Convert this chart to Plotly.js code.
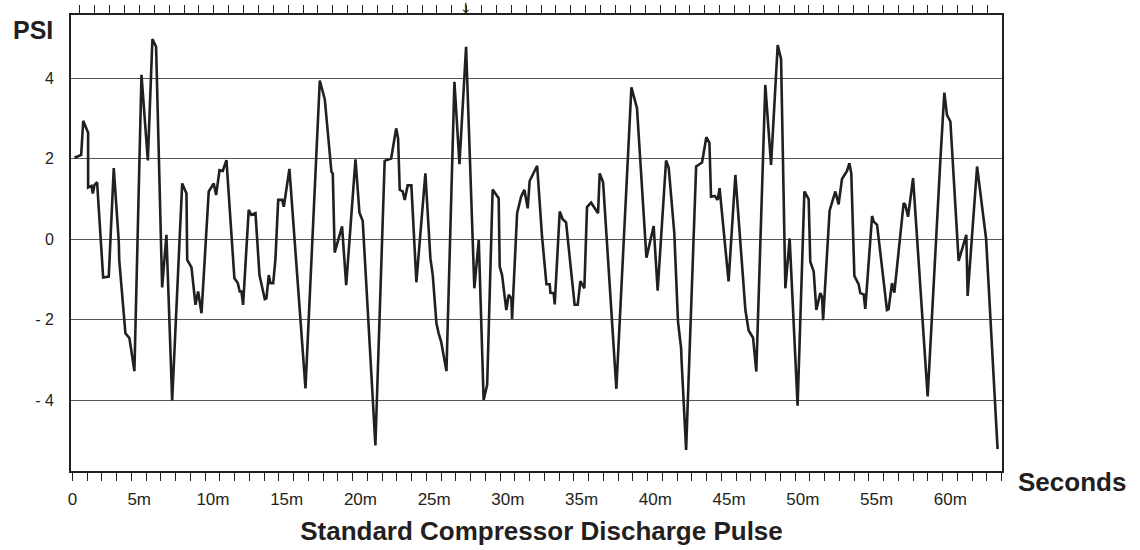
<!DOCTYPE html>
<html>
<head>
<meta charset="utf-8">
<script src="https://cdn.plot.ly/plotly-3.0.1.min.js"></script>
<style>
  html, body { margin: 0; padding: 0; background: #ffffff; }
  #chart { width: 1140px; height: 550px; }
</style>
</head>
<body>
<div id="chart"></div>
<script>
// Time in minutes (labelled "m" on the axis) and pressure pulse in PSI
const minutes = [
  0.14, 0.59, 0.73, 1.06, 1.06, 1.29, 1.38, 1.49, 1.67, 2.08,
  2.46, 2.80, 3.14, 3.17, 3.59, 3.86, 4.20, 4.68, 5.11, 5.42,
  5.67, 6.08, 6.37, 6.76, 7.44, 7.73, 7.78, 8.07, 8.34, 8.52,
  8.75, 9.24, 9.58, 9.74, 9.97, 10.19, 10.44, 10.98, 11.21, 11.34,
  11.46, 11.57, 11.95, 12.12, 12.41, 12.68, 13.04, 13.15, 13.31, 13.42,
  13.61, 13.76, 13.95, 14.22, 14.33, 14.71, 15.80, 16.77, 17.11, 17.56,
  17.65, 17.78, 18.28, 18.56, 19.19, 19.46, 19.68, 20.54, 21.17, 21.61,
  21.95, 22.08, 22.19, 22.39, 22.53, 22.73, 22.98, 23.32, 23.93, 24.27,
  24.43, 24.68, 24.83, 25.00, 25.36, 25.90, 26.24, 26.69, 27.25, 27.55,
  27.88, 28.12, 28.49, 28.90, 28.97, 29.13, 29.42, 29.58, 29.76, 29.81,
  30.15, 30.42, 30.64, 30.87, 31.00, 31.51, 31.84, 32.14, 32.36, 32.41,
  32.63, 32.70, 33.04, 33.24, 33.47, 34.05, 34.26, 34.44, 34.71, 34.89,
  35.17, 35.64, 35.75, 35.98, 36.88, 37.90, 38.28, 38.92, 39.41, 39.68,
  40.25, 40.43, 40.81, 41.06, 41.27, 41.30, 41.61, 42.29, 42.69, 42.98,
  43.19, 43.30, 43.55, 43.75, 43.88, 44.49, 44.95, 45.63, 45.85, 46.15,
  46.37, 46.98, 47.37, 47.82, 48.05, 48.34, 48.63, 49.17, 49.63, 49.92,
  50.03, 50.26, 50.44, 50.71, 50.83, 50.90, 51.34, 51.73, 51.95, 52.18,
  52.52, 52.68, 52.81, 53.02, 53.31, 53.42, 53.65, 53.76, 54.22, 54.33,
  54.56, 55.23, 55.34, 55.57, 55.73, 56.14, 56.36, 56.47, 56.66, 57.00,
  57.99, 58.85, 59.12, 59.30, 59.53, 60.09, 60.61, 60.70, 61.34, 61.95,
  62.73
];
const psi = [
  2.03, 2.10, 2.95, 2.65, 1.29, 1.33, 1.14, 1.35, 1.42, -0.95,
  -0.93, 1.77, -0.06, -0.51, -2.34, -2.46, -3.28, 4.09, 1.96, 4.98,
  4.79, -1.20, 0.11, -4.01, 1.39, 1.14, -0.51, -0.70, -1.63, -1.30,
  -1.84, 1.19, 1.39, 1.10, 1.72, 1.70, 1.97, -0.97, -1.09, -1.30,
  -1.30, -1.63, 0.73, 0.61, 0.65, -0.89, -1.49, -1.47, -0.89, -1.09,
  -1.09, -0.51, 0.98, 0.98, 0.81, 1.75, -3.71, 3.95, 3.48, 1.68,
  1.64, -0.33, 0.32, -1.14, 1.99, 0.66, 0.46, -5.13, 1.95, 2.01,
  2.76, 2.51, 1.23, 1.19, 0.98, 1.34, 1.34, -1.07, 1.64, -0.47,
  -0.89, -2.09, -2.34, -2.55, -3.28, 3.92, 1.87, 4.79, -1.22, -0.02,
  -4.00, -3.62, 1.24, 1.02, -0.68, -0.89, -1.76, -1.38, -1.47, -1.98,
  0.65, 1.06, 1.23, 0.77, 1.45, 1.83, 0.07, -1.12, -1.12, -1.33,
  -1.34, -1.62, 0.69, 0.50, 0.42, -1.63, -1.63, -1.04, -1.22, 0.80,
  0.91, 0.65, 1.64, 1.42, -3.72, 3.78, 3.26, -0.46, 0.33, -1.28,
  1.96, 1.78, 0.15, -2.05, -2.71, -3.00, -5.24, 1.81, 1.91, 2.54,
  2.40, 1.06, 1.08, 0.98, 1.27, -1.05, 1.60, -1.76, -2.27, -2.45,
  -3.29, 3.84, 1.85, 4.83, 4.48, -1.22, 0.02, -4.14, 1.19, 1.00,
  -0.56, -0.80, -1.76, -1.34, -1.43, -2.01, 0.71, 1.19, 0.87, 1.50,
  1.70, 1.89, 1.64, -0.91, -1.12, -1.34, -1.37, -1.73, 0.58, 0.44,
  0.36, -1.76, -1.74, -1.09, -1.33, 0.15, 0.90, 0.86, 0.56, 1.52,
  -3.91, 1.97, 3.65, 3.09, 2.93, -0.54, 0.11, -1.41, 1.81, 0.02,
  -5.22
];
const xTickVals = [0, 5, 10, 15, 20, 25, 30, 35, 40, 45, 50, 55, 60];
const xTickText = ["&nbsp;&nbsp;&nbsp;0", "5m", "10m", "15m", "20m", "25m", "30m", "35m", "40m", "45m", "50m", "55m", "60m"];
const yTickVals = [4, 2, 0, -2, -4];
const yTickText = ["4", "2", "0", "- 2", "- 4"];

const ink = '#231f20';
const fontFam = 'Liberation Sans, Arial, Helvetica, sans-serif';

const traces = [
  {
    x: minutes, y: psi,
    type: 'scatter', mode: 'lines',
    line: { color: ink, width: 2.6 },
    hoverinfo: 'x+y', showlegend: false
  },
  {
    // carrier for the top tick strip
    x: [minutes[0]], y: [psi[0]],
    xaxis: 'x2', type: 'scatter', mode: 'markers',
    marker: { opacity: 0 }, hoverinfo: 'skip', showlegend: false
  }
];

const layout = {
  width: 1140, height: 550,
  margin: { l: 71, r: 138, t: 15, b: 79 },
  paper_bgcolor: '#ffffff', plot_bgcolor: '#ffffff',
  font: { family: fontFam, color: ink },
  showlegend: false,
  title: {
    text: '<b>Standard Compressor Discharge Pulse</b>',
    font: { family: fontFam, size: 26, color: ink },
    x: 541.5 / 1140, xanchor: 'center', xref: 'container',
    y: (550 - 531) / 550, yanchor: 'middle', yref: 'container'
  },
  xaxis: {
    range: [-0.1, 63.03],
    tickmode: 'array', tickvals: xTickVals, ticktext: xTickText,
    ticks: 'outside', ticklen: 8, tickwidth: 1.3, tickcolor: ink,
    minor: { dtick: 1, ticks: 'outside', ticklen: 8, tickwidth: 1.3, tickcolor: ink, showgrid: false },
    ticklabelstandoff: 3,
    ticklabelshift: -7,
    tickfont: { family: fontFam, size: 17, color: ink },
    showline: true, linewidth: 2.2, linecolor: ink,
    showgrid: false, zeroline: false, fixedrange: true
  },
  xaxis2: {
    overlaying: 'x', side: 'top', anchor: 'y',
    range: [-0.6, 61.98],
    tickmode: 'linear', tick0: 0, dtick: 1,
    ticks: 'outside', ticklen: 8, tickwidth: 1.3, tickcolor: ink,
    showticklabels: false,
    showline: true, linewidth: 1.5, linecolor: ink,
    showgrid: false, zeroline: false, fixedrange: true
  },
  yaxis: {
    range: [-5.765, 5.58],
    tickmode: 'array', tickvals: yTickVals, ticktext: yTickText,
    ticks: '', ticklabelstandoff: 12,
    tickfont: { family: fontFam, size: 16, color: ink },
    showline: true, linewidth: 2, linecolor: ink, mirror: true,
    showgrid: true, gridcolor: '#555555', gridwidth: 1.3,
    zeroline: false, fixedrange: true
  },
  annotations: [
    {
      text: '<b>PSI</b>', xref: 'paper', yref: 'paper',
      x: (10.5 - 71) / 931, xanchor: 'left',
      y: (471 - 29.5) / 456, yanchor: 'middle',
      showarrow: false, font: { family: fontFam, size: 25, color: ink }
    },
    {
      text: '<b>Seconds</b>', xref: 'paper', yref: 'paper',
      x: (1016 - 71) / 931, xanchor: 'left',
      y: (471 - 482) / 456, yanchor: 'middle',
      showarrow: false, font: { family: fontFam, size: 26, color: ink }
    },
    {
      text: '↓', xref: 'x', yref: 'paper',
      x: 26.69, xanchor: 'center',
      y: (471 - 8) / 456, yanchor: 'middle',
      showarrow: false, font: { family: 'DejaVu Sans, sans-serif', size: 14, color: ink }
    }
  ]
};

Plotly.newPlot('chart', traces, layout, { displayModeBar: false });
</script>
</body>
</html>
